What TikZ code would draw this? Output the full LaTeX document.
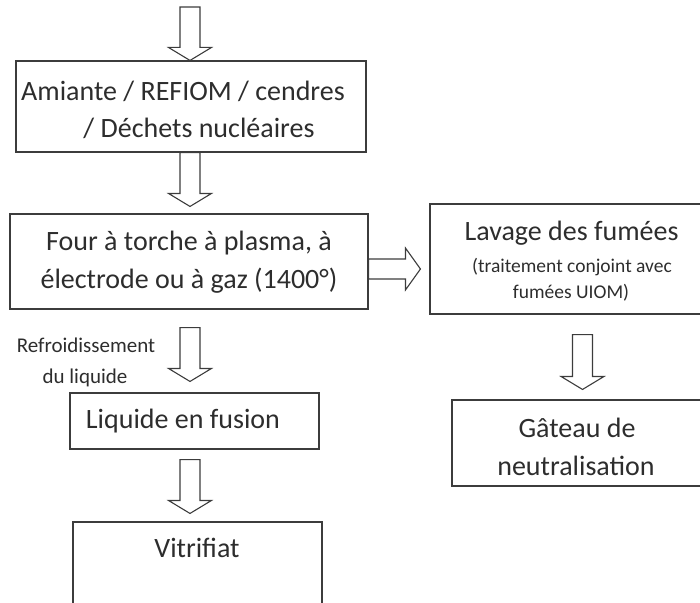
\documentclass[tikz,border=0pt]{standalone}
\usepackage{fontspec}
\setmainfont{Carlito}
\usetikzlibrary{calc}

\definecolor{linecol}{RGB}{60,60,60}
\definecolor{textcol}{RGB}{45,45,45}

\tikzset{
  box/.style={draw=linecol, line width=1.1pt, inner sep=0pt},
  txt/.style={anchor=base, inner sep=0pt, text=textcol,
    font=\fontsize{28}{34}\selectfont},
  smalltxt/.style={anchor=base, inner sep=0pt, text=textcol,
    font=\fontsize{19.5}{24}\selectfont},
  sidetxt/.style={anchor=base, inner sep=0pt, text=textcol,
    font=\fontsize{21}{26}\selectfont},
  % hollow block arrow pointing down: #1 = gap after the start point,
  % #2 = gap left before the target point
  hollowdown/.style 2 args={draw=linecol, line width=1.1pt, line join=miter,
    to path={let \p1=(\tikztostart), \p2=(\tikztotarget) in
      (\x1-10,\y1-#1) -- (\x1-10,\y2+#2+13) -- (\x1-21.5,\y2+#2+13)
      -- (\x1,\y2+#2) -- (\x1+21.5,\y2+#2+13) -- (\x1+10,\y2+#2+13)
      -- (\x1+10,\y1-#1) -- cycle}},
  % hollow block arrow pointing right
  hollowright/.style 2 args={draw=linecol, line width=1.1pt, line join=miter,
    to path={let \p1=(\tikztostart), \p2=(\tikztotarget) in
      (\x1+#1,\y1+10) -- (\x2-#2-15,\y1+10) -- (\x2-#2-15,\y1+21)
      -- (\x2-#2,\y1) -- (\x2-#2-15,\y1-21) -- (\x2-#2-15,\y1-10)
      -- (\x1+#1,\y1-10) -- cycle}},
}

\begin{document}
\begin{tikzpicture}[x=1pt, y=-1pt]
  \useasboundingbox (0,0) rectangle (700,602);
  \clip (0,0) rectangle (700,602);

  % reference lines for the arrow axes
  \coordinate (colx) at (190,0);
  \coordinate (rcol) at (582.5,0);
  \coordinate (rowy) at (0,269);
  \coordinate (in) at (190,7);

  % boxes
  \node[box, minimum width=350pt, minimum height=91pt]  (amiante) at (191,106.5) {};
  \node[box, minimum width=358pt, minimum height=95pt]  (four)    at (189,261.5) {};
  \node[box, minimum width=282pt, minimum height=110pt] (lavage)  at (571,259) {};
  \node[box, minimum width=249pt, minimum height=56pt]  (liquide) at (194.5,421) {};
  \node[box, minimum width=249pt, minimum height=128pt] (vitrif)  at (197.5,586) {};
  \node[box, minimum width=250pt, minimum height=86pt]  (gateau)  at (577,443) {};

  % box texts
  \node[txt] (t1a) at (183,100) {Amiante / REFIOM / cendres};
  \node[txt] (t1b) at (199,137) {/ Déchets nucléaires};
  \node[txt] (t2a) at (189,250) {Four à torche à plasma, à};
  \node[txt] (t2b) at (189,288) {électrode ou à gaz (1400°)};
  \node[txt] (t3a) at (571.5,240) {Lavage des fumées};
  \node[smalltxt] (t3b) at (572,272) {(traitement conjoint avec};
  \node[smalltxt] (t3c) at (571,298) {fumées UIOM)};
  \node[txt] (t4) at (183,428) {Liquide en fusion};
  \node[txt] (t5) at (197,557) {Vitrifiat};
  \node[txt] (t6a) at (577,437) {Gâteau de};
  \node[txt] (t6b) at (576,475) {neutralisation};

  % side label of the cooling step
  \node[sidetxt] (r1) at (86,352) {Refroidissement};
  \node[sidetxt] (r2) at (85,383) {du liquide};

  % block arrows
  \draw[hollowdown={0}{0}]   (in) to (amiante.north -| colx);
  \draw[hollowdown={0}{7}]   (amiante.south -| colx) to (four.north -| colx);
  \draw[hollowdown={18}{11}] (four.south -| colx) to (liquide.north -| colx);
  \draw[hollowdown={10}{8}]  (liquide.south -| colx) to (vitrif.north -| colx);
  \draw[hollowdown={20}{10}] (lavage.south -| rcol) to (gateau.north -| rcol);
  \draw[hollowright={0}{9}]  (four.east |- rowy) to (lavage.west |- rowy);
\end{tikzpicture}
\end{document}
